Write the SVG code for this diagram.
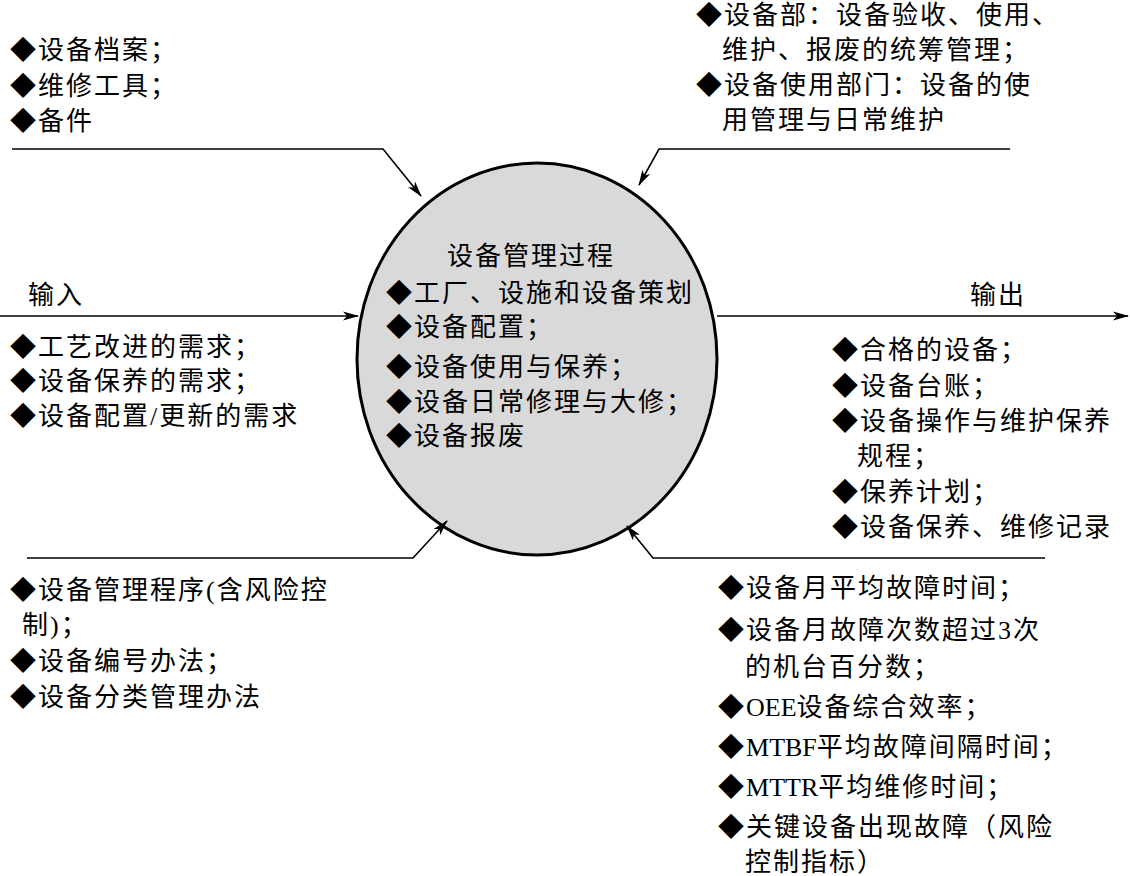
<svg xmlns="http://www.w3.org/2000/svg" width="1130" height="876" viewBox="0 0 1130 876">
<defs>
<marker id="arr" viewBox="0 0 16 10" refX="15" refY="5" markerWidth="16" markerHeight="10" markerUnits="userSpaceOnUse" orient="auto">
<path d="M0,0.5 L16,5 L0,9.5 L4,5 Z" fill="#000"/>
</marker>
</defs>
<style>
text{font-family:"Liberation Serif","Noto Sans CJK SC",serif;font-size:26px;letter-spacing:2px;fill:#000}
.l{letter-spacing:0}
.c{fill:none;stroke:#000;stroke-width:1.6;marker-end:url(#arr)}
</style>
<rect width="1130" height="876" fill="#fff"/>
<g id="process">
<ellipse cx="537" cy="359" rx="180" ry="196" fill="#d9d9d9" stroke="#000" stroke-width="3"/>
<text x="447" y="265">设备管理过程</text>
<text x="386" y="302">◆工厂、设施和设备策划</text>
<text x="386" y="336">◆设备配置；</text>
<text x="386" y="376">◆设备使用与保养；</text>
<text x="386" y="411">◆设备日常修理与大修；</text>
<text x="386" y="445">◆设备报废</text>
</g>
<g id="connectors">
<polyline class="c" points="12,149 383,149 421,196"/>
<polyline class="c" points="1010,149 659,149 639,185"/>
<polyline class="c" points="0,316 358,316"/>
<polyline class="c" points="717,316 1128,316"/>
<polyline class="c" points="27,558 413,558 447,521"/>
<polyline class="c" points="1045,558 653,558 627,526"/>
</g>
<g id="resources">
<text x="10" y="59">◆设备档案；</text>
<text x="10" y="95">◆维修工具；</text>
<text x="10" y="130">◆备件</text>
</g>
<g id="responsibility">
<text x="696" y="24">◆设备部：设备验收、使用、</text>
<text x="722" y="59">维护、报废的统筹管理；</text>
<text x="696" y="94">◆设备使用部门：设备的使</text>
<text x="722" y="129">用管理与日常维护</text>
</g>
<g id="input">
<text x="28" y="304">输入</text>
<text x="10" y="356">◆工艺改进的需求；</text>
<text x="10" y="390">◆设备保养的需求；</text>
<text x="10" y="425">◆设备配置/更新的需求</text>
</g>
<g id="output">
<text x="970" y="304">输出</text>
<text x="832" y="359">◆合格的设备；</text>
<text x="832" y="395">◆设备台账；</text>
<text x="832" y="430">◆设备操作与维护保养</text>
<text x="857" y="465">规程；</text>
<text x="832" y="501">◆保养计划；</text>
<text x="832" y="536">◆设备保养、维修记录</text>
</g>
<g id="procedures">
<text x="10" y="599">◆设备管理程序(含风险控</text>
<text x="22" y="634">制)；</text>
<text x="10" y="670">◆设备编号办法；</text>
<text x="10" y="706">◆设备分类管理办法</text>
</g>
<g id="indicators">
<text x="718" y="597">◆设备月平均故障时间；</text>
<text x="718" y="639">◆设备月故障次数超过3次</text>
<text x="745" y="676">的机台百分数；</text>
<text x="718" y="716">◆<tspan class="l">OEE</tspan>设备综合效率；</text>
<text x="718" y="756">◆<tspan class="l">MTBF</tspan>平均故障间隔时间；</text>
<text x="718" y="796">◆<tspan class="l">MTTR</tspan>平均维修时间；</text>
<text x="718" y="836">◆关键设备出现故障（风险</text>
<text x="745" y="871">控制指标）</text>
</g>
</svg>
